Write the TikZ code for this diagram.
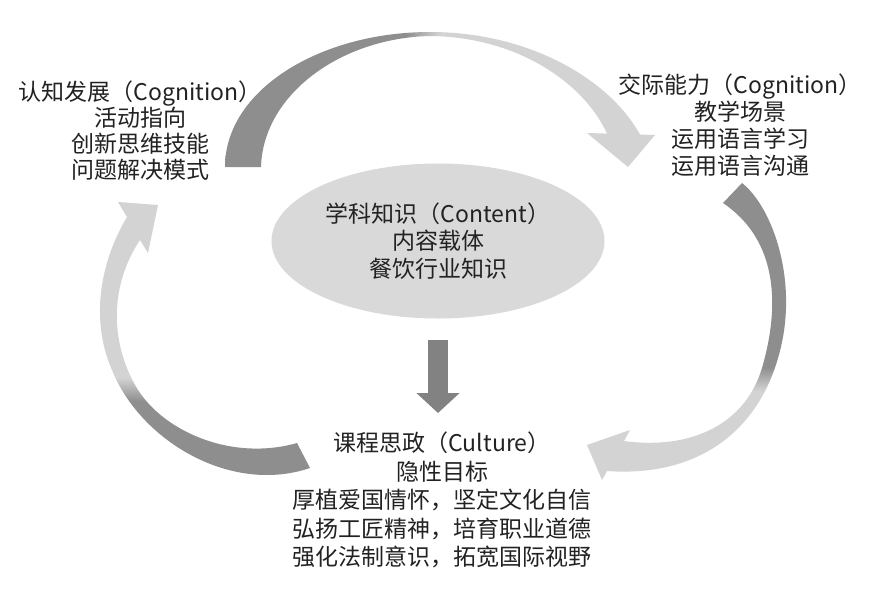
\documentclass[tikz,border=0pt]{standalone}
\usepackage{fontspec}
\setmainfont{Noto Sans CJK SC}
\usetikzlibrary{arrows.meta,shapes.geometric}
\definecolor{arcD}{HTML}{8E8E8E}
\definecolor{arcL}{HTML}{D3D3D3}
\definecolor{ellG}{HTML}{D9D9D9}
\definecolor{downG}{HTML}{828282}
\definecolor{txt}{HTML}{222222}
\pgfdeclareverticalshading{shT}{100bp}{color(0bp)=(arcL); color(50bp)=(arcL); color(54bp)=(arcD); color(100bp)=(arcD)}
\pgfdeclareverticalshading{shR}{100bp}{color(0bp)=(arcL); color(40bp)=(arcL); color(44bp)=(arcD); color(100bp)=(arcD)}
\pgfdeclareverticalshading{shB}{100bp}{color(0bp)=(arcD); color(41bp)=(arcD); color(45bp)=(arcL); color(100bp)=(arcL)}
\tikzset{
  lbl/.style={align=center, text=txt, inner sep=0pt},
  contentell/.style={ellipse, fill=ellG, draw=none, minimum width=333pt, minimum height=155pt, inner sep=0pt, align=center, text=txt},
  downarr/.style={draw=downG, line width=20pt, -{Triangle[width=42pt,length=20pt]}}
}
\begin{document}
\begin{tikzpicture}[x=1pt,y=-1pt]
\useasboundingbox (0,0) rectangle (888,597);
\fill[white] (0,0) rectangle (888,597);

% curved block arrows
\shade[shading=shT, shading angle=90]
  (261,167) .. controls (263,95) and (340,38) .. (430,36)
  .. controls (520,37) and (585,85) .. (607,133.6)
  -- (587,133) -- (628,167) -- (655,135) -- (640,134.6)
  .. controls (610,80) and (530,32) .. (430,32)
  .. controls (320,32) and (225,90) .. (225,167) -- cycle;

\shade[shading=shR, shading angle=0]
  (742,183) .. controls (770,205) and (795,270) .. (783,337)
  .. controls (767,424) and (705,478) .. (607,471)
  -- (602,480) -- (587,445) -- (630,430) -- (624,441)
  .. controls (690,450) and (745,425) .. (762,368)
  .. controls (776,320) and (785,245) .. (723,203) -- cycle;

\shade[shading=shB, shading angle=0]
  (297,443) .. controls (230,462) and (160,430) .. (135,385)
  .. controls (110,340) and (110,285) .. (140,240)
  -- (148,253) -- (158,205) -- (118,202) -- (127,217)
  .. controls (100,262) and (90,320) .. (112,370)
  .. controls (140,440) and (230,495) .. (310,468) -- cycle;

% nodes
\node[lbl, font=\fontsize{23}{26}\selectfont] (cog) at (140,131)
  {认知发展（Cognition）\\活动指向\\创新思维技能\\问题解决模式};
\node[lbl, font=\fontsize{23}{27}\selectfont] (comm) at (740,125)
  {交际能力（Cognition）\\教学场景\\运用语言学习\\运用语言沟通};
\node[contentell, font=\fontsize{23}{27.5}\selectfont] (content) at (438,241)
  {学科知识（Content）\\内容载体\\餐饮行业知识};
\node[lbl, font=\fontsize{23}{28.5}\selectfont] (cult) at (442,500)
  {课程思政（Culture）\\隐性目标\\厚植爱国情怀，坚定文化自信\\弘扬工匠精神，培育职业道德\\强化法制意识，拓宽国际视野};

% straight arrow
\coordinate (dtop) at (438,340);
\coordinate (dtip) at (438,413);
\draw[downarr] (dtop) -- (dtip);
\end{tikzpicture}
\end{document}
